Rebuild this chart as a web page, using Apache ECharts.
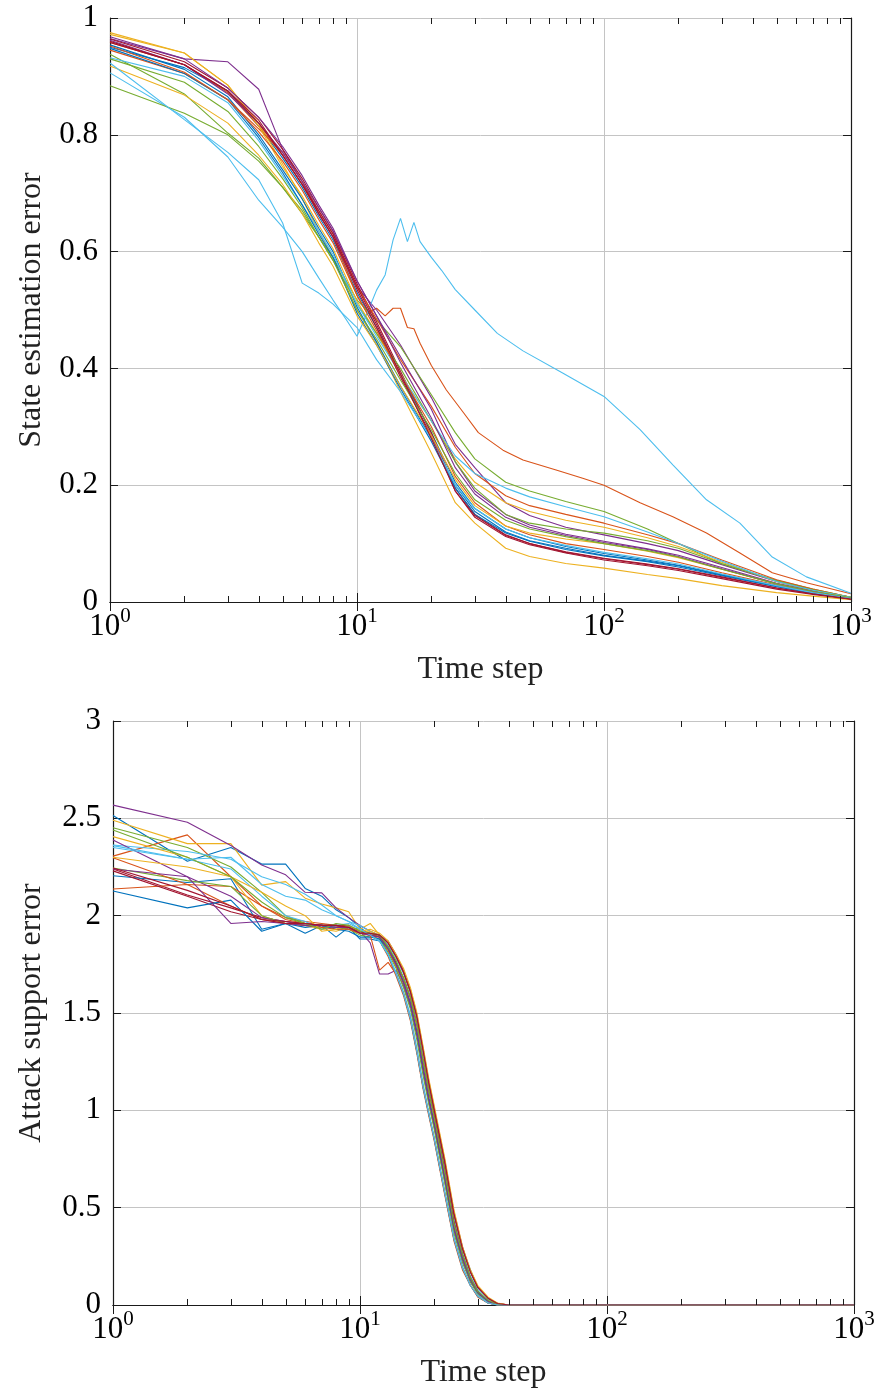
<!DOCTYPE html>
<html><head><meta charset="utf-8">
<script src="https://cdn.jsdelivr.net/npm/echarts@6/dist/echarts.min.js"></script>
<style>html,body{margin:0;padding:0;background:#fff}#chart{width:879px;height:1396px}</style>
</head><body><div id="chart"></div>
<script>
// ---------- Top panel: state estimation error ----------
const topT = [1,2,3,4,5,6,7,8,10,12,15,20,25,30,40,50,70,100,150,200,300,500,700,1000];
const topRun01 = [.950,.915,.875,.815,.76,.71,.66,.62,.53,.47,.39,.29,.205,.16,.125,.11,.095,.083,.072,.063,.047,.028,.017,.006];
const topBumpT = [1,2,3,4,5,6,7,8,10,11,12,13,14,15,16,17,18,20,23,27,31,39,47,64,82,100,140,190,260,355,480,660,1000];
const topBumpV = [.958,.92,.872,.815,.765,.715,.665,.625,.525,.495,.503,.49,.503,.503,.47,.468,.443,.405,.363,.324,.29,.26,.243,.226,.212,.20,.17,.146,.118,.084,.05,.033,.014];
const topRun03 = [.975,.94,.885,.82,.75,.69,.635,.59,.50,.445,.36,.255,.17,.135,.092,.078,.066,.058,.047,.04,.028,.016,.010,.004];
const topRun04 = [.965,.93,.925,.878,.775,.72,.665,.625,.54,.50,.44,.35,.27,.23,.17,.148,.128,.115,.10,.088,.064,.035,.02,.008];
const topRun05 = [.938,.87,.803,.76,.71,.665,.625,.59,.517,.483,.437,.355,.29,.245,.205,.19,.172,.155,.125,.10,.065,.037,.022,.008];
const topPeakT = [1,2,3,4,5,6,7,8,9,10,11,12,13,14,15,16,17,18,20,22,25,30,37,47,68,100,140,190,260,355,480,660,1000];
const topPeakV = [.906,.83,.762,.688,.642,.60,.555,.517,.485,.455,.495,.534,.56,.62,.657,.617,.65,.617,.59,.568,.535,.50,.46,.43,.392,.352,.295,.235,.175,.135,.077,.043,.015];
const topRun07 = [.964,.925,.88,.83,.775,.725,.675,.635,.545,.48,.395,.29,.195,.15,.115,.1,.085,.074,.064,.056,.042,.024,.014,.005];
const topRun08 = [.954,.912,.865,.80,.74,.69,.64,.60,.505,.445,.37,.28,.20,.155,.12,.105,.092,.08,.07,.062,.046,.027,.016,.006];
const topRun09 = [.945,.905,.86,.81,.77,.72,.67,.63,.54,.485,.415,.335,.265,.22,.182,.165,.15,.135,.115,.10,.072,.038,.022,.008];
const topRun10 = [.972,.94,.885,.815,.745,.695,.645,.605,.515,.46,.39,.31,.245,.205,.17,.155,.14,.128,.11,.095,.068,.035,.02,.007];
const topRun11 = [.962,.92,.87,.82,.77,.72,.675,.635,.55,.49,.42,.33,.24,.19,.15,.132,.116,.104,.091,.08,.059,.032,.019,.007];
const topRun12 = [.884,.837,.80,.755,.71,.67,.625,.585,.51,.46,.40,.31,.24,.195,.15,.135,.125,.118,.105,.092,.066,.036,.021,.008];
const topRun13 = [.932,.90,.855,.79,.73,.68,.635,.595,.51,.455,.39,.31,.25,.22,.195,.18,.163,.146,.12,.10,.07,.035,.02,.008];
const topRun14 = [.96,.92,.875,.82,.765,.715,.665,.625,.535,.47,.385,.285,.19,.145,.112,.098,.084,.072,.062,.054,.04,.022,.013,.005];
const topRun15 = [.948,.905,.86,.795,.735,.68,.63,.59,.495,.44,.365,.275,.195,.15,.118,.104,.09,.079,.069,.06,.045,.026,.015,.006];
const topRun16 = [.952,.907,.86,.805,.755,.705,.655,.615,.525,.465,.39,.30,.215,.17,.13,.115,.1,.09,.078,.068,.05,.029,.017,.006];
const topRun17 = [.918,.868,.82,.765,.715,.665,.615,.575,.49,.44,.37,.285,.21,.165,.13,.118,.108,.10,.087,.076,.056,.031,.018,.007];
const topRun18 = [.968,.93,.88,.83,.78,.73,.68,.64,.55,.49,.41,.315,.23,.185,.145,.128,.114,.102,.09,.078,.057,.031,.018,.006];
const topRun19 = [.93,.89,.84,.78,.725,.675,.625,.585,.50,.45,.38,.295,.22,.175,.14,.125,.112,.10,.088,.077,.056,.031,.018,.007];
const topRun20 = [.923,.826,.77,.723,.649,.546,.529,.51,.47,.415,.36,.28,.20,.16,.125,.11,.097,.085,.074,.065,.048,.028,.016,.006];
const topRun21 = [.958,.92,.875,.825,.765,.715,.67,.63,.54,.475,.39,.28,.19,.148,.114,.10,.086,.075,.065,.057,.043,.024,.014,.005];

// ---------- Bottom panel: attack support error ----------
const botT = [1,2,3,4,5,6,7,8,9,10,11,12,13,14,15,16,17,18,19,20,22,24,26,28,30,33,36,40,1000];
const botRun01 = [2.515,2.28,2.35,2.265,2.265,2.14,2.10,2.03,1.99,1.94,1.9, 1.89,1.85,1.79,1.71,1.61,1.47,1.30,1.13,1.0,0.73,0.46,0.29,0.18,0.09,0.035,0.008,0,0];
const botRun02 = [2.306,2.415,2.2,2.05,1.99,1.97,1.96,1.95,1.95,1.92,1.9, 1.87,1.79,1.69,1.59,1.46,1.29,1.11,0.97,0.84,0.57,0.33,0.18,0.1,0.04,0.01,0,0,0];
const botRun03 = [2.49,2.37,2.37,2.157,2.175,2.09,2.06,2.04,2.02,1.93,1.96, 1.9,1.84,1.76,1.68,1.57,1.43,1.25,1.09,0.96,0.69,0.43,0.26,0.14,0.07,0.02,0.003,0,0];
const botRun04 = [2.568,2.48,2.36,2.26,2.21,2.12,2.117,2.04,1.99,1.95,1.92, 1.9,1.87,1.8,1.72,1.62,1.49,1.32,1.15,1.01,0.75,0.48,0.3,0.17,0.09,0.035,0.008,0,0];
const botRun05 = [2.452,2.35,2.25,2.12,2.0,1.96,1.95,1.95,1.94,1.93,1.91, 1.89,1.83,1.75,1.66,1.55,1.4,1.22,1.06,0.93,0.66,0.4,0.24,0.13,0.065,0.02,0.003,0,0];
const botRun06 = [2.363,2.33,2.29,2.2,2.16,2.11,2.055,2.0,1.97,1.95,1.92, 1.9,1.85,1.78,1.7,1.6,1.46,1.29,1.12,0.98,0.71,0.44,0.27,0.15,0.08,0.03,0.005,0,0];
const botRun07 = [2.24,2.106,2.04,1.99,1.97,1.96,1.95,1.94,1.95,1.92,1.9, 1.89,1.84,1.76,1.68,1.58,1.44,1.26,1.1,0.97,0.7,0.43,0.26,0.14,0.07,0.02,0.003,0,0];
const botRun08 = [2.205,2.17,2.19,1.93,1.96,1.91,1.95,1.89,1.94,1.88,1.88, 1.87,1.8,1.7,1.6,1.47,1.3,1.12,0.98,0.85,0.58,0.34,0.19,0.1,0.045,0.01,0,0,0];
const botRun09 = [2.137,2.16,2.15,2.05,1.98,1.96,1.95,1.95,1.93,1.91,1.9, 1.88,1.82,1.74,1.65,1.54,1.39,1.21,1.05,0.92,0.65,0.39,0.23,0.12,0.06,0.018,0.002,0,0];
const botRun10 = [2.406,2.3,2.2,2.0,1.96,1.95,1.93,1.92,1.94,1.92,1.92, 1.9,1.86,1.79,1.71,1.61,1.48,1.31,1.14,1.0,0.74,0.47,0.29,0.17,0.09,0.035,0.008,0,0];
const botRun11 = [2.389,2.2,2.1,1.99,1.97,1.95,1.95,1.94,1.93,1.92,1.86, 1.70,1.70,1.72,1.64,1.53,1.38,1.2,1.04,0.91,0.64,0.38,0.22,0.12,0.06,0.015,0,0,0];
const botRun12 = [2.245,2.18,2.15,2.0,1.96,1.95,1.95,1.94,1.93,1.9,1.89, 1.88,1.81,1.73,1.63,1.52,1.36,1.18,1.03,0.9,0.63,0.37,0.22,0.12,0.055,0.015,0,0,0];
const botRun13 = [2.35,2.29,2.24,2.1,2.0,1.97,1.93,1.95,1.96,1.93,1.9, 1.87,1.8,1.71,1.61,1.49,1.32,1.14,0.99,0.86,0.59,0.35,0.2,0.1,0.05,0.012,0,0,0];
const botRun14 = [2.23,2.1,2.02,1.98,1.97,1.96,1.95,1.95,1.94,1.92,1.91, 1.9,1.86,1.79,1.71,1.61,1.48,1.31,1.14,1.0,0.74,0.47,0.29,0.17,0.09,0.035,0.008,0,0];
const botRun15 = [2.127,2.04,2.08,1.92,1.96,1.94,1.95,1.93,1.92,1.89,1.89, 1.88,1.83,1.75,1.66,1.55,1.4,1.22,1.06,0.93,0.66,0.4,0.24,0.13,0.065,0.02,0.003,0,0];
const botRun16 = [2.297,2.16,2.05,1.98,1.96,1.95,1.94,1.93,1.93,1.91,1.9, 1.72,1.76,1.7,1.6,1.47,1.3,1.12,0.98,0.85,0.58,0.34,0.19,0.1,0.045,0.01,0,0,0];
const botRun17 = [2.3,2.25,2.2,2.12,2.05,2.0,1.92,1.93,1.95,1.92,1.93, 1.91,1.87,1.8,1.73,1.63,1.5,1.33,1.16,1.02,0.76,0.49,0.3,0.18,0.1,0.04,0.01,0,0];
const botRun18 = [2.24,2.2,1.96,1.97,1.96,1.95,1.95,1.94,1.94,1.91,1.9, 1.89,1.83,1.75,1.66,1.55,1.4,1.22,1.06,0.93,0.66,0.4,0.24,0.13,0.065,0.02,0.003,0,0];
const botRun19 = [2.44,2.3,2.2,2.07,1.99,1.96,1.93,1.96,1.95,1.92,1.91, 1.9,1.84,1.77,1.68,1.58,1.44,1.26,1.1,0.96,0.69,0.42,0.26,0.14,0.07,0.025,0.004,0,0];
const botRun20 = [2.36,2.29,2.3,2.16,2.1,2.08,2.03,2.0,1.97,1.93,1.9, 1.87,1.8,1.7,1.6,1.47,1.3,1.12,0.98,0.85,0.58,0.34,0.19,0.1,0.045,0.01,0,0,0];
const botRun21 = [2.245,2.13,2.05,1.98,1.96,1.96,1.95,1.95,1.94,1.91,1.91, 1.9,1.86,1.79,1.71,1.61,1.48,1.31,1.14,1.0,0.74,0.47,0.29,0.17,0.09,0.035,0.008,0,0];

// ---------- Axis settings ----------
const xDecadeMin = 1, xDecadeMax = 1000;
const topYMin = 0, topYMax = 1, topYStep = 0.2;
const botYMin = 0, botYMax = 3, botYStep = 0.5;
const xTitle = 'Time step';
const topYTitle = 'State estimation error';
const botYTitle = 'Attack support error';
const minorTickMultipliers = [2,3,4,5,6,7,8,9];
const decadeBases = [1,10,100];

const COLORS = ['#0072BD','#D95319','#EDB120','#7E2F8E','#77AC30','#4DBEEE','#A2142F'];
const FONT = 'Liberation Serif';

function zip(T, V) { return V.map((v, i) => [T[i], v]); }

const topData = [
  zip(topT, topRun01), zip(topBumpT, topBumpV), zip(topT, topRun03), zip(topT, topRun04),
  zip(topT, topRun05), zip(topPeakT, topPeakV), zip(topT, topRun07), zip(topT, topRun08),
  zip(topT, topRun09), zip(topT, topRun10), zip(topT, topRun11), zip(topT, topRun12),
  zip(topT, topRun13), zip(topT, topRun14), zip(topT, topRun15), zip(topT, topRun16),
  zip(topT, topRun17), zip(topT, topRun18), zip(topT, topRun19), zip(topT, topRun20),
  zip(topT, topRun21)
];
const botData = [botRun01,botRun02,botRun03,botRun04,botRun05,botRun06,botRun07,botRun08,botRun09,botRun10,
  botRun11,botRun12,botRun13,botRun14,botRun15,botRun16,botRun17,botRun18,botRun19,botRun20,botRun21].map(v => zip(botT, v));

const minorTicks = [];
decadeBases.forEach(b => minorTickMultipliers.forEach(m => minorTicks.push(m * b)));

const AXIS_COLOR = '#1a1a1a';
const GRID_COLOR = '#c4c4c4';

function xAxes(gridIndex) {
  const fmt = v => '{b|10}{s|' + Math.round(Math.log10(v)) + '}';
  return [
    { type: 'log', logBase: 10, gridIndex, min: xDecadeMin, max: xDecadeMax, position: 'bottom',
      axisLine: { show: true, lineStyle: { color: AXIS_COLOR, width: 1.2 } },
      axisTick: { show: true, inside: true, length: 9, lineStyle: { color: AXIS_COLOR } },
      splitLine: { show: true, lineStyle: { color: GRID_COLOR, width: 1 } },
      axisLabel: { show: true, margin: 4, formatter: fmt,
        rich: {
          b: { fontFamily: FONT, fontSize: 31, lineHeight: 36, verticalAlign: 'bottom', color: '#000' },
          s: { fontFamily: FONT, fontSize: 21, lineHeight: 21, verticalAlign: 'top', color: '#000' }
        } },
      name: xTitle, nameLocation: 'middle', nameGap: 52,
      nameTextStyle: { fontFamily: FONT, fontSize: 32, color: '#222' } },
    { type: 'log', logBase: 10, gridIndex, min: xDecadeMin, max: xDecadeMax, position: 'top',
      axisLine: { show: true, lineStyle: { color: AXIS_COLOR, width: 1.2 } },
      axisTick: { show: true, inside: true, length: 9, lineStyle: { color: AXIS_COLOR } },
      splitLine: { show: false }, axisLabel: { show: false } }
  ];
}
function yAxes(gridIndex, min, max, step, title, gap) {
  return [
    { type: 'value', gridIndex, min, max, interval: step, position: 'left',
      axisLine: { show: true, lineStyle: { color: AXIS_COLOR, width: 1.2 } },
      axisTick: { show: true, inside: true, length: 8, lineStyle: { color: AXIS_COLOR } },
      splitLine: { show: true, lineStyle: { color: GRID_COLOR, width: 1 } },
      axisLabel: { margin: 12, fontFamily: FONT, fontSize: 31, color: '#000' },
      name: title, nameLocation: 'middle', nameGap: gap, nameRotate: 90,
      nameTextStyle: { fontFamily: FONT, fontSize: 32, color: '#222' } },
    { type: 'value', gridIndex, min, max, interval: step, position: 'right',
      axisLine: { show: true, lineStyle: { color: AXIS_COLOR, width: 1.2 } },
      axisTick: { show: true, inside: true, length: 8, lineStyle: { color: AXIS_COLOR } },
      splitLine: { show: false }, axisLabel: { show: false } }
  ];
}

function minorTickSeries(xi, yi, ymin, ymax) {
  return {
    type: 'custom', xAxisIndex: xi, yAxisIndex: yi, silent: true, clip: false, z: 10,
    data: minorTicks.map(t => [t, ymin]),
    renderItem: (params, api) => {
      const t = api.value(0);
      const b = api.coord([t, ymin]);
      const tp = api.coord([t, ymax]);
      const x = Math.round(b[0]) + 0.5;
      return { type: 'group', children: [
        { type: 'line', shape: { x1: x, y1: b[1], x2: x, y2: b[1] - 6 }, style: { stroke: AXIS_COLOR, lineWidth: 1 } },
        { type: 'line', shape: { x1: x, y1: tp[1], x2: x, y2: tp[1] + 6 }, style: { stroke: AXIS_COLOR, lineWidth: 1 } }
      ] };
    }
  };
}

function lineSeries(data, idx, xi, yi) {
  return { type: 'line', xAxisIndex: xi, yAxisIndex: yi, data, showSymbol: false, symbol: 'none',
    lineStyle: { width: 1.1, color: COLORS[idx % 7] }, itemStyle: { color: COLORS[idx % 7] },
    emphasis: { disabled: true }, silent: true };
}

const series = [];
topData.forEach((d, i) => series.push(lineSeries(d, i, 0, 0)));
botData.forEach((d, i) => series.push(lineSeries(d, i, 2, 2)));
series.push(minorTickSeries(0, 0, topYMin, topYMax));
series.push(minorTickSeries(2, 2, botYMin, botYMax));

const chart = echarts.init(document.getElementById('chart'), null, { renderer: 'canvas' });
chart.setOption({
  animation: false,
  backgroundColor: '#fff',
  grid: [
    { left: 110, right: 28, top: 18, height: 584, containLabel: false },
    { left: 113, right: 25, top: 721, height: 584, containLabel: false }
  ],
  xAxis: [...xAxes(0), ...xAxes(1)],
  yAxis: [...yAxes(0, topYMin, topYMax, topYStep, topYTitle, 62), ...yAxes(1, botYMin, botYMax, botYStep, botYTitle, 65)],
  series
});
</script></body></html>
